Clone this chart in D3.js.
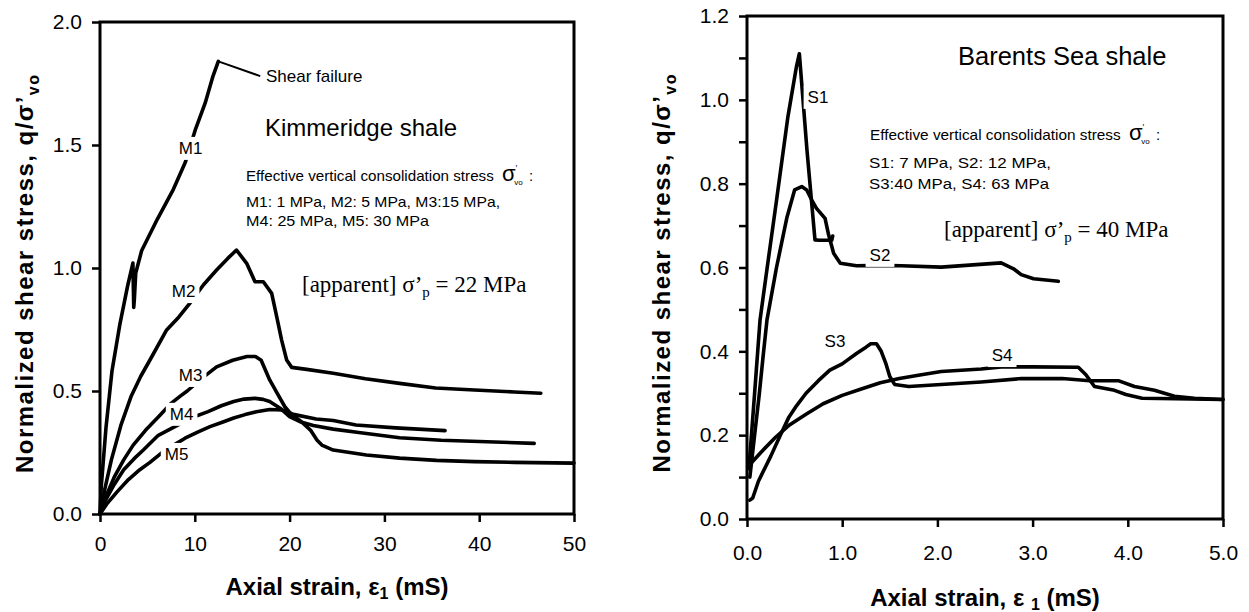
<!DOCTYPE html>
<html>
<head>
<meta charset="utf-8">
<script src="https://cdn.jsdelivr.net/npm/d3@7"></script>
<style>
body { margin: 0; background: #fff; }
svg text { font-family: "Liberation Sans", Arial, sans-serif; fill: #000; }
.serif { font-family: "Liberation Serif", "Times New Roman", serif; }
</style>
</head>
<body>
<svg id="chart" width="1249" height="612"></svg>
<script>
// ---- Kimmeridge shale (left) ----
var m1Strain = [0, 0.13, 0.63, 1.26, 2.09, 2.93, 3.47, 3.56, 3.62, 3.77, 4.39, 6.07, 7.74, 9.0, 10.04, 11.09, 11.92, 12.48];
var m1Q      = [0, 0.11, 0.35, 0.58, 0.77, 0.93, 1.02, 0.84, 0.87, 0.98, 1.07, 1.20, 1.32, 1.43, 1.56, 1.67, 1.78, 1.84];

var m2Strain = [0, 0.5, 1.2, 2.2, 3.3, 4.3, 5.27, 7.03, 8.3, 9.49, 10.9, 12.3, 13.5, 14.4, 15.47, 16.35, 17.23, 18.11, 18.64, 19.16, 19.69, 20.22, 21.8, 24.6, 28, 31.6, 35.4, 39.5, 43.7, 46.5];
var m2Q      = [0, 0.1, 0.22, 0.36, 0.48, 0.56, 0.626, 0.748, 0.80, 0.857, 0.931, 0.992, 1.04, 1.073, 1.019, 0.944, 0.944, 0.897, 0.802, 0.707, 0.626, 0.596, 0.588, 0.572, 0.55, 0.531, 0.512, 0.504, 0.496, 0.491];

var m3Strain = [0, 0.5, 1.5, 2.5, 3.5, 4.8, 6.3, 7.5, 8.5, 9.2, 10.7, 12.3, 14, 15.5, 16.4, 17.0, 17.9, 18.7, 19.5, 20.3, 21.1, 22.2, 22.9, 23.4, 24.6, 28.1, 31.6, 35.5, 39.5, 43.7, 50];
var m3Q      = [0, 0.06, 0.15, 0.22, 0.28, 0.34, 0.40, 0.45, 0.48, 0.5, 0.55, 0.598, 0.625, 0.64, 0.64, 0.625, 0.545, 0.49, 0.436, 0.40, 0.38, 0.341, 0.30, 0.28, 0.26, 0.24, 0.227, 0.218, 0.213, 0.21, 0.207];

var m4Strain = [0, 0.5, 1.5, 2.5, 3.6, 4.57, 6.15, 7.9, 9.6, 11.4, 12.8, 14.1, 15.2, 16.35, 17.2, 17.9, 19.0, 20.0, 21.1, 22.5, 24.6, 27.5, 31.6, 36, 40, 45.8];
var m4Q      = [0, 0.05, 0.12, 0.18, 0.225, 0.26, 0.32, 0.355, 0.39, 0.416, 0.44, 0.457, 0.467, 0.47, 0.466, 0.457, 0.43, 0.396, 0.375, 0.36, 0.345, 0.33, 0.31, 0.30, 0.295, 0.287];

var m5Strain = [0, 0.7, 1.8, 3.0, 4.2, 5.27, 6.7, 8.0, 8.97, 10.3, 11.6, 12.9, 14.1, 15.3, 16.5, 17.9, 19.2, 20.4, 22.8, 24.6, 27, 31.2, 36.4];
var m5Q      = [0, 0.04, 0.09, 0.14, 0.18, 0.21, 0.255, 0.285, 0.308, 0.333, 0.355, 0.373, 0.39, 0.404, 0.416, 0.425, 0.423, 0.405, 0.386, 0.38, 0.362, 0.35, 0.339];

var leftNames  = ["M1", "M2", "M3", "M4", "M5"];
var leftLabelX = [9.56, 8.82, 9.56, 8.61, 8.08];
var leftLabelY = [1.488, 0.906, 0.565, 0.407, 0.244];
var leftXTicks = [0, 10, 20, 30, 40, 50];
var leftYTicks = [0, 0.5, 1.0, 1.5, 2.0];

// ---- Barents Sea shale (right) ----
var s1Strain = [0.02, 0.08, 0.137, 0.2, 0.31, 0.43, 0.52, 0.55, 0.63, 0.714, 0.76, 0.89, 0.9];
var s1Q      = [0.12, 0.3, 0.475, 0.58, 0.76, 0.96, 1.08, 1.11, 0.88, 0.666, 0.665, 0.665, 0.675];

var s2Strain = [0.03, 0.08, 0.13, 0.17, 0.21, 0.31, 0.42, 0.5, 0.575, 0.627, 0.68, 0.73, 0.82, 0.855, 0.91, 0.98, 1.15, 1.4, 1.62, 2.04, 2.3, 2.67, 2.8, 2.88, 3.01, 3.27];
var s2Q      = [0.1, 0.2, 0.3, 0.39, 0.475, 0.6, 0.72, 0.785, 0.793, 0.785, 0.761, 0.741, 0.717, 0.68, 0.634, 0.61, 0.604, 0.605, 0.604, 0.601, 0.605, 0.611, 0.597, 0.583, 0.573, 0.567];

var s3Strain = [0.03, 0.06, 0.12, 0.25, 0.35, 0.44, 0.52, 0.62, 0.75, 0.87, 1.0, 1.15, 1.25, 1.3, 1.36, 1.41, 1.46, 1.5, 1.55, 1.7, 2.04, 2.46, 2.88, 3.31, 3.6, 3.9, 4.07, 4.28, 4.49, 4.7, 5.0];
var s3Q      = [0.045, 0.05, 0.09, 0.15, 0.2, 0.243, 0.27, 0.30, 0.33, 0.355, 0.37, 0.395, 0.41, 0.418, 0.418, 0.4, 0.37, 0.34, 0.321, 0.316, 0.321, 0.327, 0.335, 0.335, 0.33, 0.33, 0.316, 0.307, 0.293, 0.288, 0.285];

var s4Strain = [0.03, 0.15, 0.3, 0.45, 0.62, 0.8, 1.0, 1.2, 1.4, 1.6, 1.8, 2.04, 2.46, 2.67, 3.0, 3.48, 3.56, 3.65, 3.86, 3.98, 4.15, 4.5, 5.0];
var s4Q      = [0.13, 0.16, 0.195, 0.225, 0.25, 0.275, 0.295, 0.31, 0.325, 0.335, 0.343, 0.352, 0.358, 0.363, 0.363, 0.362, 0.344, 0.316, 0.307, 0.297, 0.288, 0.287, 0.285];

var rightNames  = ["S1", "S2", "S3", "S4"];
var rightLabelX = [0.746, 1.397, 0.924, 2.68];
var rightLabelY = [1.007, 0.63, 0.425, 0.391];
var rightXTicks = [0, 1, 2, 3, 4, 5];
var rightYTicks = [0, 0.2, 0.4, 0.6, 0.8, 1.0, 1.2];
var rightYMinor = [0.1, 0.3, 0.5, 0.7, 0.9, 1.1];

var svg = d3.select("#chart");

function zip(xs, ys) {
	return xs.map(function(v, i) { return [v, ys[i]]; });
}

function drawPanel(cfg) {
	var g = svg.append("g");
	var x = d3.scaleLinear().domain(cfg.xDomain).range([cfg.left, cfg.right]);
	var y = d3.scaleLinear().domain(cfg.yDomain).range([cfg.bottom, cfg.top]);

	if (cfg.yMinor) {
		g.append("g")
			.attr("transform", "translate(" + cfg.left + ",0)")
			.call(d3.axisLeft(y).tickValues(cfg.yMinor).tickSize(8).tickFormat(""))
			.call(function(a) { a.select(".domain").remove(); });
	}

	var xa = g.append("g")
		.attr("transform", "translate(0," + cfg.bottom + ")")
		.call(d3.axisBottom(x).tickValues(cfg.xTicks).tickSize(8).tickPadding(cfg.xPad).tickFormat(cfg.xFormat));
	var ya = g.append("g")
		.attr("transform", "translate(" + cfg.left + ",0)")
		.call(d3.axisLeft(y).tickValues(cfg.yTicks).tickSize(8).tickPadding(10).tickFormat(d3.format(".1f")));

	[xa, ya].forEach(function(a) {
		a.select(".domain").remove();
		a.selectAll("text").style("font-size", "21px").style("font-family", "'Liberation Sans', Arial, sans-serif");
	});
	g.selectAll(".tick line").attr("stroke", "#000").attr("stroke-width", 2.5);

	// curves
	var line = d3.line().x(function(d) { return x(d[0]); }).y(function(d) { return y(d[1]); });
	g.selectAll("path.curve")
		.data(cfg.series)
		.enter()
		.append("path")
		.attr("class", "curve")
		.attr("d", line)
		.attr("fill", "none")
		.attr("stroke", "#000")
		.attr("stroke-width", 3.6)
		.attr("stroke-linejoin", "round")
		.attr("stroke-linecap", "round");

	// curve labels, with white backing to break the lines
	cfg.names.forEach(function(n, i) {
		var bg = g.append("rect").attr("fill", "#fff");
		var t = g.append("text")
			.attr("x", x(cfg.labelX[i]))
			.attr("y", y(cfg.labelY[i]))
			.attr("dy", "0.35em")
			.attr("text-anchor", "middle")
			.style("font-size", "17px")
			.text(n);
		var b = t.node().getBBox();
		bg.attr("x", b.x - 4).attr("y", b.y - 2).attr("width", b.width + 8).attr("height", b.height + 4);
	});

	// frame
	g.append("rect")
		.attr("x", cfg.left)
		.attr("y", cfg.top)
		.attr("width", cfg.right - cfg.left)
		.attr("height", cfg.bottom - cfg.top)
		.attr("fill", "none")
		.attr("stroke", "#000")
		.attr("stroke-width", 3);

	// axis titles
	var xt = g.append("text")
		.attr("x", (cfg.left + cfg.right) / 2)
		.attr("y", cfg.xTitleY)
		.attr("text-anchor", "middle")
		.style("font-size", "24px")
		.style("font-weight", "bold");
	xt.append("tspan").text("Axial strain, \u03b5" + cfg.epsGap);
	xt.append("tspan").attr("dy", cfg.epsSub).style("font-size", "16px").text("1");
	xt.append("tspan").attr("dy", -cfg.epsSub).text(" (mS)");

	var yt = g.append("text")
		.attr("transform", "translate(" + cfg.yTitleX + "," + ((cfg.top + cfg.bottom) / 2 + 6) + ") rotate(-90)")
		.attr("text-anchor", "middle")
		.attr("textLength", 398)
		.style("font-size", "24px")
		.style("font-weight", "bold");
	yt.append("tspan").text("Normalized shear stress, q/\u03c3\u2019");
	yt.append("tspan").attr("dy", 6).style("font-size", "16px").text("vo");

	return { x: x, y: y, g: g };
}

var left = drawPanel({
	left: 100, right: 574, top: 22, bottom: 514,
	xDomain: [0, 50], yDomain: [0, 2.0],
	xTicks: leftXTicks, yTicks: leftYTicks,
	xFormat: d3.format("d"), xPad: 14,
	series: [zip(m1Strain, m1Q), zip(m2Strain, m2Q), zip(m3Strain, m3Q), zip(m4Strain, m4Q), zip(m5Strain, m5Q)],
	names: leftNames, labelX: leftLabelX, labelY: leftLabelY,
	xTitleY: 595, yTitleX: 33, epsGap: "", epsSub: 4
});

var right = drawPanel({
	left: 747, right: 1223, top: 16, bottom: 519,
	xDomain: [0, 5], yDomain: [0, 1.2],
	xTicks: rightXTicks, yTicks: rightYTicks, yMinor: rightYMinor,
	xFormat: d3.format(".1f"), xPad: 18,
	series: [zip(s1Strain, s1Q), zip(s2Strain, s2Q), zip(s3Strain, s3Q), zip(s4Strain, s4Q)],
	names: rightNames, labelX: rightLabelX, labelY: rightLabelY,
	xTitleY: 606, yTitleX: 670, epsGap: " ", epsSub: 4
});

// shear failure pointer
var lg = left.g;
lg.append("line")
	.attr("x1", left.x(12.48)).attr("y1", left.y(1.84))
	.attr("x2", left.x(16.9)).attr("y2", left.y(1.78))
	.attr("stroke", "#000").attr("stroke-width", 2);
lg.append("text").attr("x", 266).attr("y", 82).style("font-size", "17px").text("Shear failure");

function note(g, x, y, size, str, len) {
	var t = g.append("text").attr("x", x).attr("y", y).style("font-size", size + "px").text(str);
	if (len) t.attr("textLength", len).attr("lengthAdjust", "spacingAndGlyphs");
	return t;
}

function stressLine(g, x, y, len) {
	var t = g.append("text").attr("x", x).attr("y", y).style("font-size", "15px");
	t.append("tspan").attr("textLength", len).attr("lengthAdjust", "spacingAndGlyphs").text("Effective vertical consolidation stress ");
	t.append("tspan").style("font-size", "22px").attr("dx", 4).text("\u03c3");
	t.append("tspan").style("font-size", "9px").attr("dy", -10).text("\u2032");
	t.append("tspan").style("font-size", "8px").attr("dx", -3).attr("dy", 14).text("vo");
	t.append("tspan").attr("dy", -4).attr("dx", 2).text(" :");
}

function apparent(g, x, y, val) {
	var t = g.append("text").attr("class", "serif").attr("x", x).attr("y", y).style("font-size", "23px");
	t.append("tspan").text("[apparent] \u03c3\u2019");
	t.append("tspan").attr("dy", 5).style("font-size", "15px").text("p");
	t.append("tspan").attr("dy", -5).text(" = " + val + " MPa");
}

note(lg, 265, 136, 24, "Kimmeridge shale");
stressLine(lg, 246, 181, 252);
note(lg, 246, 207, 15, "M1: 1 MPa, M2: 5 MPa, M3:15 MPa,", 254);
note(lg, 246, 226, 15, "M4: 25 MPa, M5: 30 MPa", 183);
apparent(lg, 302, 292, "22");

var rg = right.g;
note(rg, 958, 65, 25.5, "Barents Sea shale");
stressLine(rg, 870, 140, 255);
note(rg, 869, 168, 15, "S1: 7 MPa, S2: 12 MPa,", 182);
note(rg, 869, 189, 15, "S3:40 MPa, S4: 63 MPa", 180);
apparent(rg, 944, 237, "40");
</script>
</body>
</html>
